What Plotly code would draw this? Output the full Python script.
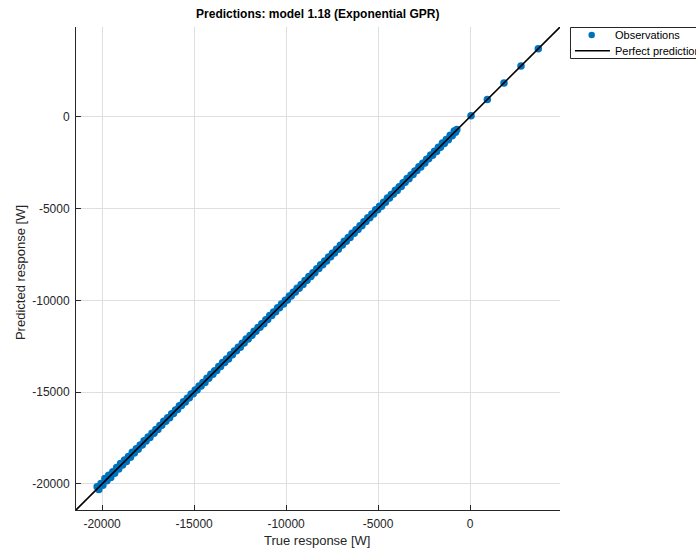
import plotly.graph_objects as go

# ---- data ----
true_resp = [
    -20270, -20180, -20060, -19960, -19850, -19740, -19640, -19530, -19420, -19320,
    -19210, -19100, -19000, -18890, -18780, -18680, -18570, -18460, -18360, -18250,
    -18140, -18040, -17930, -17820, -17720, -17610, -17500, -17400, -17290, -17180,
    -17080, -16970, -16860, -16760, -16650, -16540, -16440, -16330, -16220, -16120,
    -16010, -15900, -15800, -15690, -15580, -15480, -15370, -15260, -15160, -15050,
    -14940, -14840, -14730, -14620, -14520, -14410, -14300, -14200, -14090, -13980,
    -13880, -13770, -13660, -13560, -13450, -13340, -13240, -13130, -13020, -12920,
    -12810, -12700, -12600, -12490, -12380, -12280, -12170, -12060, -11960, -11850,
    -11740, -11640, -11530, -11420, -11320, -11210, -11100, -11000, -10890, -10780,
    -10680, -10570, -10460, -10360, -10250, -10140, -10040, -9930, -9820, -9720,
    -9610, -9500, -9400, -9290, -9180, -9080, -8970, -8860, -8760, -8650,
    -8540, -8440, -8330, -8220, -8120, -8010, -7900, -7800, -7690, -7580,
    -7480, -7370, -7260, -7160, -7050, -6940, -6840, -6730, -6620, -6520,
    -6410, -6300, -6200, -6090, -5980, -5880, -5770, -5660, -5560, -5450,
    -5340, -5240, -5130, -5020, -4920, -4810, -4700, -4600, -4490, -4380,
    -4280, -4170, -4060, -3960, -3850, -3740, -3640, -3530, -3420, -3320,
    -3210, -3100, -3000, -2890, -2780, -2680, -2570, -2460, -2360, -2250,
    -2140, -2040, -1930, -1820, -1720, -1610, -1500, -1400, -1290, -1180,
    -1080, -970, -860, -790, -720, 54, 940, 1846, 2770, 3709]
pred_resp = [
    -20150, -20310, -19970, -20070, -19710, -19830, -19530, -19650, -19340, -19420,
    -19110, -19190, -18890, -18970, -18690, -18780, -18500, -18550, -18280, -18320,
    -18080, -18110, -17880, -17880, -17650, -17660, -17440, -17470, -17240, -17240,
    -17030, -17030, -16820, -16810, -16590, -16580, -16390, -16390, -16180, -16170,
    -15970, -15950, -15740, -15730, -15530, -15540, -15330, -15310, -15100, -15090,
    -14890, -14880, -14670, -14670, -14480, -14470, -14250, -14240, -14030, -14030,
    -13840, -13820, -13610, -13600, -13390, -13390, -13200, -13190, -12970, -12960,
    -12760, -12750, -12560, -12550, -12330, -12320, -12110, -12110, -11920, -11900,
    -11680, -11680, -11480, -11470, -11280, -11270, -11050, -11040, -10830, -10830,
    -10640, -10620, -10400, -10400, -10200, -10200, -10000, -9980, -9760, -9760,
    -9560, -9540, -9340, -9340, -9140, -9140, -8920, -8900, -8700, -8700,
    -8500, -8490, -8280, -8260, -8060, -8060, -7860, -7860, -7640, -7620,
    -7430, -7420, -7220, -7220, -7000, -6980, -6780, -6780, -6580, -6570,
    -6350, -6340, -6150, -6140, -5940, -5940, -5720, -5700, -5500, -5500,
    -5300, -5290, -5070, -5060, -4870, -4870, -4660, -4650, -4430, -4420,
    -4230, -4210, -4000, -4010, -3810, -3800, -3590, -3570, -3360, -3370,
    -3170, -3150, -2950, -2930, -2720, -2730, -2530, -2520, -2310, -2290,
    -2080, -2100, -1880, -1890, -1660, -1660, -1430, -1460, -1240, -1250,
    -1010, -1030, -780, -840, -690, 54, 940, 1846, 2770, 3709]
axis_min = -21420
axis_max = 4890
tick_vals = [-20000, -15000, -10000, -5000, 0]
tick_text = ["-20000", "-15000", "-10000", "-5000", "0"]

title_text = "Predictions: model 1.18 (Exponential GPR)"
x_title = "True response [W]"
y_title = "Predicted response [W]"
legend_labels = ["Observations", "Perfect prediction"]

# ---- styles ----
W, H = 696, 552
L, R, T, B = 75.5, 560, 27, 510
BLUE = "#0072BD"
AX = "#262626"
GRID = "#dfdfdf"
FONT = "Liberation Sans, Arial, Helvetica, sans-serif"


def px_x(p):
    return (p - L) / (R - L)


def px_y(p):
    return (B - p) / (B - T)


fig = go.Figure()
fig.add_trace(go.Scatter(
    x=true_resp, y=pred_resp, mode="markers",
    marker=dict(color=BLUE, size=7.5, line=dict(width=0)),
    showlegend=False, hoverinfo="skip"))
fig.add_trace(go.Scatter(
    x=[axis_min, axis_max], y=[axis_min, axis_max], mode="lines",
    line=dict(color="black", width=1.6), showlegend=False, hoverinfo="skip"))

axis_common = dict(
    range=[axis_min, axis_max], tickmode="array", tickvals=tick_vals, ticktext=tick_text,
    showgrid=True, gridcolor=GRID, gridwidth=1, zeroline=False,
    showline=True, linecolor=AX, linewidth=1, mirror=False,
    ticks="inside", ticklen=5, tickcolor=AX, tickwidth=1, automargin=False,
    tickfont=dict(family=FONT, size=12, color=AX),
)

fig.update_layout(
    width=W, height=H,
    margin=dict(l=L, r=W - R, t=T, b=H - B, pad=0, autoexpand=False),
    paper_bgcolor="white", plot_bgcolor="white",
    title=dict(text="<b>" + title_text + "</b>", x=(L + R) / 2 / W,
               xanchor="center", y=1 - 14 / H, yanchor="middle", yref="container",
               font=dict(family=FONT, size=12, color="black")),
    xaxis=dict(axis_common, ticklabelstandoff=3),
    yaxis=dict(axis_common, ticklabelstandoff=3),
    showlegend=False,
)

# axis titles
fig.add_annotation(text=x_title, xref="paper", yref="paper", x=px_x(316.5), y=px_y(540),
                   xanchor="center", yanchor="middle", showarrow=False,
                   font=dict(family=FONT, size=13, color=AX))
fig.add_annotation(text=y_title, xref="paper", yref="paper", x=px_x(20), y=px_y(272.5),
                   xanchor="center", yanchor="middle", showarrow=False, textangle=-90,
                   font=dict(family=FONT, size=13, color=AX))

# ---- manual legend (clipped at the right edge like the reference) ----
fig.add_shape(type="rect", xref="paper", yref="paper",
              x0=px_x(570.5), x1=px_x(720), y0=px_y(58.5), y1=px_y(27.5),
              line=dict(color=AX, width=1), fillcolor="white", layer="above")
fig.add_shape(type="circle", xref="paper", yref="paper",
              x0=px_x(588.5), x1=px_x(595), y0=px_y(38.3), y1=px_y(31.8),
              line=dict(width=0), fillcolor=BLUE, layer="above")
fig.add_shape(type="line", xref="paper", yref="paper",
              x0=px_x(575), x1=px_x(610), y0=px_y(50.7), y1=px_y(50.7),
              line=dict(color="black", width=1.6), layer="above")
for label, ypx in zip(legend_labels, [35, 50.7]):
    fig.add_annotation(text=label, xref="paper", yref="paper", x=px_x(613), y=px_y(ypx),
                       xanchor="left", yanchor="middle", showarrow=False,
                       font=dict(family=FONT, size=11, color="black"))

fig.write_html("out.html")
